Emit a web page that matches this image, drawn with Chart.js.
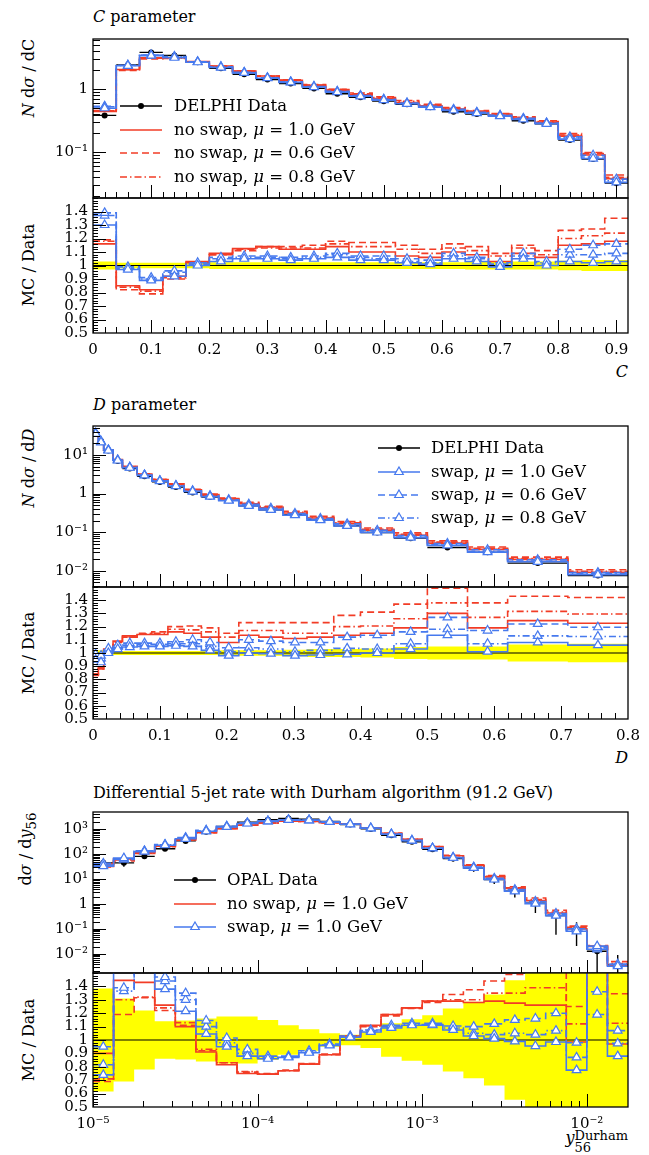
<!DOCTYPE html>
<html>
<head>
<meta charset="utf-8">
<title>MC / Data</title>
<script src="https://cdn.jsdelivr.net/npm/chart.js@4.4.1/dist/chart.umd.min.js"></script>
<style>
  html, body { margin: 0; padding: 0; background: #fff; }
  body { position: relative; width: 649px; height: 1155px; overflow: hidden;
         font-family: "DejaVu Serif", serif; color: #000; }
  canvas { position: absolute; left: 0; }
  .t { position: absolute; white-space: nowrap; font-size: 16px; line-height: 20px; }
  .yl { position: absolute; white-space: nowrap; font-size: 16px; line-height: 20px;
        transform: translate(-50%, -50%) rotate(-90deg); }
  .leg { position: absolute; white-space: nowrap; font-size: 16.5px; line-height: 22px; height: 22px; }
  .leg svg { position: absolute; left: 0; top: 4px; }
  .leg span { position: absolute; top: 0; }
  .ss { display: inline-block; vertical-align: -9px; font-size: 13px; line-height: 12px; }
  .ss span { display: block; }
</style>
</head>
<body>

<div class="t" style="left:93px;top:7px"><i>C</i> parameter</div>
<div class="yl" style="left:29px;top:78px"><i>N</i> d<i>σ</i> / dC</div>
<div class="yl" style="left:29px;top:265px">MC / Data</div>
<div class="t" style="right:21px;top:362px"><i>C</i></div>

<div class="t" style="left:93px;top:395px"><i>D</i> parameter</div>
<div class="yl" style="left:29px;top:468px"><i>N</i> d<i>σ</i> / d<i>D</i></div>
<div class="yl" style="left:29px;top:653px">MC / Data</div>
<div class="t" style="right:21px;top:748px"><i>D</i></div>

<div class="t" style="left:93px;top:783px">Differential 5-jet rate with Durham algorithm (91.2 GeV)</div>
<div class="yl" style="left:29px;top:849px">d<i>σ</i> / d<i>y</i><sub>56</sub></div>
<div class="yl" style="left:29px;top:1040px">MC / Data</div>
<div class="t" style="right:21px;top:1128px"><i>y</i><span class="ss"><span>Durham</span><span>56</span></span></div>

<script>
// ---- C parameter (DELPHI) ----
const cEdges = [0, 0.04, 0.08, 0.12, 0.16, 0.2, 0.24, 0.28, 0.32, 0.36, 0.4, 0.44, 0.48, 0.52,
                0.56, 0.6, 0.64, 0.68, 0.72, 0.76, 0.8, 0.84, 0.88, 0.92];
const cData = [0.38, 2.4, 3.8, 3.4, 2.65, 2.12, 1.71, 1.41, 1.22, 1.02, 0.84, 0.735, 0.64, 0.57,
               0.51, 0.435, 0.40, 0.374, 0.313, 0.28, 0.155, 0.077, 0.032];
// relative data uncertainty (half width of the yellow band)
const cErr = [0.03, 0.02, 0.02, 0.02, 0.02, 0.025, 0.025, 0.025, 0.025, 0.025, 0.025, 0.025,
              0.025, 0.025, 0.025, 0.025, 0.03, 0.03, 0.03, 0.03, 0.035, 0.04, 0.04];
// MC / Data
const cNoSwap10 = [1.16, 0.85, 0.82, 0.92, 1.03, 1.09, 1.125, 1.14, 1.12, 1.12, 1.14, 1.10, 1.10,
                   1.07, 1.06, 1.10, 1.08, 1.03, 1.09, 1.06, 1.15, 1.16, 1.18];
const cNoSwap06 = [1.19, 0.82, 0.79, 0.90, 1.02, 1.08, 1.12, 1.14, 1.14, 1.15, 1.18, 1.17, 1.17,
                   1.15, 1.12, 1.16, 1.14, 1.09, 1.15, 1.11, 1.26, 1.27, 1.35];
const cNoSwap08 = [1.18, 0.84, 0.81, 0.91, 1.02, 1.08, 1.11, 1.13, 1.13, 1.13, 1.16, 1.14, 1.14,
                   1.12, 1.09, 1.13, 1.11, 1.07, 1.13, 1.08, 1.20, 1.22, 1.24];
const cSwap10 = [1.30, 0.97, 0.89, 0.92, 1.00, 1.03, 1.05, 1.05, 1.04, 1.05, 1.06, 1.04, 1.04,
                 1.02, 1.01, 1.05, 1.03, 0.99, 1.05, 1.00, 1.03, 1.02, 1.03];
const cSwap06 = [1.39, 0.99, 0.91, 0.96, 1.02, 1.06, 1.07, 1.07, 1.06, 1.07, 1.09, 1.07, 1.07,
                 1.05, 1.04, 1.09, 1.06, 1.02, 1.09, 1.03, 1.12, 1.15, 1.16];
const cSwap08 = [1.37, 0.98, 0.90, 0.95, 1.01, 1.05, 1.06, 1.06, 1.05, 1.06, 1.08, 1.06, 1.05,
                 1.03, 1.02, 1.07, 1.05, 1.01, 1.07, 1.02, 1.08, 1.08, 1.09];
const cXTicks = [0, 0.1, 0.2, 0.3, 0.4, 0.5, 0.6, 0.7, 0.8, 0.9];
const cXLabels = ['0', '0.1', '0.2', '0.3', '0.4', '0.5', '0.6', '0.7', '0.8', '0.9'];
const cYTicks = [0.1, 1];
const cYLabels = ['10⁻¹', '1'];

// ---- D parameter (DELPHI) ----
const dEdges = [0, 0.008, 0.016, 0.03, 0.044, 0.066, 0.088, 0.112, 0.136, 0.162, 0.188, 0.218,
                0.248, 0.284, 0.32, 0.36, 0.40, 0.45, 0.50, 0.56, 0.62, 0.71, 0.80];
const dData = [37, 22.8, 13.0, 6.95, 4.45, 2.81, 2.0, 1.48, 1.07, 0.81, 0.665, 0.48, 0.38, 0.282,
               0.208, 0.146, 0.098, 0.070, 0.040, 0.030, 0.0158, 0.0075];
const dErr = [0.02, 0.02, 0.015, 0.015, 0.015, 0.015, 0.015, 0.015, 0.015, 0.015, 0.02, 0.02,
              0.02, 0.025, 0.03, 0.03, 0.035, 0.045, 0.05, 0.05, 0.065, 0.07];
const dNoSwap10 = [0.84, 0.88, 1.02, 1.09, 1.13, 1.14, 1.14, 1.16, 1.15, 1.12, 1.08, 1.135, 1.12,
                   1.11, 1.12, 1.135, 1.15, 1.19, 1.30, 1.19, 1.245, 1.225];
const dNoSwap06 = [0.83, 0.89, 1.03, 1.08, 1.12, 1.15, 1.16, 1.20, 1.205, 1.19, 1.15, 1.23, 1.23,
                   1.23, 1.23, 1.285, 1.31, 1.37, 1.49, 1.38, 1.43, 1.42];
const dNoSwap08 = [0.84, 0.88, 1.02, 1.085, 1.12, 1.145, 1.15, 1.18, 1.175, 1.16, 1.12, 1.17, 1.17,
                   1.15, 1.15, 1.20, 1.205, 1.26, 1.38, 1.27, 1.315, 1.295];
const dSwap10 = [0.95, 0.93, 1.0, 1.03, 1.045, 1.05, 1.05, 1.055, 1.05, 1.02, 0.98, 1.0, 0.995,
                 0.98, 0.985, 0.99, 1.0, 1.03, 1.135, 1.01, 1.08, 1.06];
const dSwap06 = [0.99, 0.98, 1.035, 1.06, 1.075, 1.075, 1.075, 1.085, 1.10, 1.08, 1.04, 1.10, 1.09,
                 1.08, 1.08, 1.12, 1.135, 1.16, 1.27, 1.17, 1.22, 1.195];
const dSwap08 = [0.97, 0.96, 1.02, 1.05, 1.06, 1.065, 1.065, 1.07, 1.07, 1.05, 1.01, 1.04, 1.03,
                 1.01, 1.02, 1.035, 1.03, 1.07, 1.18, 1.07, 1.13, 1.125];
const dXTicks = [0, 0.1, 0.2, 0.3, 0.4, 0.5, 0.6, 0.7, 0.8];
const dXLabels = ['0', '0.1', '0.2', '0.3', '0.4', '0.5', '0.6', '0.7', '0.8'];
const dYTicks = [0.01, 0.1, 1, 10];
const dYLabels = ['10⁻²', '10⁻¹', '1', '10¹'];

// ---- differential 5-jet rate, Durham (OPAL, 91.2 GeV) ----
const y56EdgeExp = [-5, -4.875, -4.75, -4.625, -4.5, -4.375, -4.25, -4.125, -4, -3.875, -3.75,
                    -3.625, -3.5, -3.375, -3.25, -3.125, -3, -2.875, -2.75, -2.625, -2.5,
                    -2.375, -2.25, -2.125, -2, -1.875, -1.75];
const y56Data = [45, 45, 82, 165, 340, 790, 1300, 1930, 2400, 2700, 2520, 2040, 1550, 1030, 575,
                 315, 156, 67, 27.6, 9.6, 3.3, 1.1, 0.35, 0.105, 0.013, 0.0037];
const y56Err = [0.385, 0.31, 0.22, 0.14, 0.145, 0.16, 0.175, 0.175, 0.15, 0.11, 0.08, 0.05, 0.04,
                0.06, 0.125, 0.155, 0.185, 0.235, 0.285, 0.34, 0.445, 0.6, 0.83, 0.8, 1.0, 1.5];
const y56NoSwap10 = [0.90, 1.445, 1.43, 1.26, 1.10, 0.91, 0.815, 0.75, 0.745, 0.77, 0.82, 0.89, 1.03,
                     1.11, 1.19, 1.24, 1.29, 1.29, 1.28, 1.29, 1.275, 1.26, 1.26, 0.985, 1.55, 0.97];
const y56NoSwap06 = [0.69, 1.19, 1.315, 1.22, 1.11, 0.92, 0.83, 0.76, 0.75, 0.775, 0.825, 0.895, 1.025,
                     1.10, 1.18, 1.235, 1.28, 1.34, 1.375, 1.44, 1.49, 1.6, 1.6, 1.25, 1.7, 1.345];
const y56NoSwap08 = [0.71, 1.30, 1.32, 1.24, 1.13, 0.93, 0.83, 0.765, 0.745, 0.77, 0.82, 0.89, 1.03,
                     1.105, 1.19, 1.24, 1.29, 1.30, 1.30, 1.35, 1.35, 1.39, 1.39, 1.12, 1.6, 1.125];
const y56Swap10 = [0.74, 1.55, 1.55, 1.38, 1.215, 1.045, 0.95, 0.88, 0.86, 0.87, 0.905, 0.96, 1.02,
                   1.06, 1.09, 1.11, 1.115, 1.075, 1.03, 1.01, 0.99, 0.955, 0.985, 0.775, 1.6, 0.88];
const y56Swap06 = [0.95, 1.39, 1.65, 1.47, 1.35, 1.145, 1.015, 0.93, 0.88, 0.88, 0.92, 0.97, 1.03,
                   1.075, 1.11, 1.125, 1.125, 1.105, 1.10, 1.12, 1.15, 1.16, 1.2, 0.98, 1.36, 1.07];
const y56Swap08 = [0.815, 1.365, 1.6, 1.44, 1.30, 1.10, 0.98, 0.90, 0.87, 0.875, 0.91, 0.965, 1.025,
                   1.07, 1.10, 1.115, 1.11, 1.09, 1.05, 1.04, 1.05, 1.04, 1.07, 0.87, 1.19, 0.975];
const y56XTicks = [1e-5, 1e-4, 1e-3, 1e-2];
const y56XLabels = ['10⁻⁵', '10⁻⁴', '10⁻³', '10⁻²'];
const y56YTicks = [0.01, 0.1, 1, 10, 100, 1000];
const y56YLabels = ['10⁻²', '10⁻¹', '1', '10¹', '10²', '10³'];

// shared ratio axis
const ratioTicks = [0.5, 0.6, 0.7, 0.8, 0.9, 1, 1.1, 1.2, 1.3, 1.4];
const ratioLabels = ['0.5', '0.6', '0.7', '0.8', '0.9', '1', '1.1', '1.2', '1.3', '1.4'];

const RED = '#f23c26', BLUE = '#4679ee', YELLOW = '#ffff00';
const DASH = [7, 4], DASHDOT = [7, 3, 1.5, 3];
// order: no swap 1.0, 0.6, 0.8, swap 1.0, 0.6, 0.8
const styles = [
    { color: RED, dash: [] }, { color: RED, dash: DASH }, { color: RED, dash: DASHDOT },
    { color: BLUE, dash: [] }, { color: BLUE, dash: DASH }, { color: BLUE, dash: DASHDOT }
];

const panels = [
    { edges: cEdges, data: cData, err: cErr,
      ratios: [cNoSwap10, cNoSwap06, cNoSwap08, cSwap10, cSwap06, cSwap08],
      logX: false, xMin: 0, xMax: 0.92, xTicks: cXTicks, xLabels: cXLabels,
      yMin: 0.0186, yMax: 6.2, yTicks: cYTicks, yLabels: cYLabels,
      top: 39, split: 198, bottom: 333 },
    { edges: dEdges, data: dData, err: dErr,
      ratios: [dNoSwap10, dNoSwap06, dNoSwap08, dSwap10, dSwap06, dSwap08],
      logX: false, xMin: 0, xMax: 0.8, xTicks: dXTicks, xLabels: dXLabels,
      yMin: 0.0038, yMax: 56, yTicks: dYTicks, yLabels: dYLabels,
      top: 426, split: 587, bottom: 719 },
    { edges: y56EdgeExp.map(e => Math.pow(10, e)), data: y56Data, err: y56Err,
      ratios: [y56NoSwap10, y56NoSwap06, y56NoSwap08, y56Swap10, y56Swap06, y56Swap08],
      logX: true, xMin: 1e-5, xMax: Math.pow(10, -1.75), xTicks: y56XTicks, xLabels: y56XLabels,
      yMin: 0.00174, yMax: 4900, yTicks: y56YTicks, yLabels: y56YLabels,
      top: 812, split: 973, bottom: 1107 }
];

Chart.defaults.font.family = 'DejaVu Serif';
Chart.defaults.color = '#000';
const tickFont = { family: 'DejaVu Serif', size: 15 };
const PAD = 12;

function stepPoints(edges, vals) {
    var pts = [];
    for (let i = 0; i < vals.length; i++) pts.push({ x: edges[i], y: vals[i] });
    pts.push({ x: edges[edges.length - 1], y: vals[vals.length - 1] });
    return pts;
}

function binCenters(edges, logX) {
    var c = [];
    for (let i = 0; i < edges.length - 1; i++) {
        c.push(logX ? Math.sqrt(edges[i] * edges[i + 1]) : (edges[i] + edges[i + 1]) / 2);
    }
    return c;
}

function lineSet(pts, st) {
    return { data: pts, stepped: true, borderColor: st.color, borderWidth: 1.6,
             borderDash: st.dash, pointRadius: 0, fill: false };
}

function triangleSet(pts, st) {
    return { data: pts, showLine: false, pointStyle: 'triangle', pointRadius: 5,
             pointBackgroundColor: '#fff', pointBorderColor: st.color, pointBorderWidth: 1.2 };
}

// tick positions for the inward ticks
function linTicks(min, max, step) {
    var out = [];
    for (let k = 0; min + k * step <= max + 1e-9; k++) out.push(+(min + k * step).toFixed(6));
    return out;
}
function logMinor(min, max) {
    var out = [];
    for (let e = Math.floor(Math.log10(min)); e <= Math.ceil(Math.log10(max)); e++) {
        for (let m = 1; m < 10; m++) {
            const v = m * Math.pow(10, e);
            if (v >= min && v <= max) out.push(v);
        }
    }
    return out;
}

function framePlugin(t) {
    return {
        id: 'frame',
        afterDraw(chart) {
            const a = chart.chartArea, ctx = chart.ctx;
            const xs = chart.scales.x, ys = chart.scales.y;
            ctx.save();
            ctx.strokeStyle = '#000';
            ctx.lineWidth = 1;
            ctx.beginPath();
            const xt = (vals, len) => vals.forEach(v => {
                const x = Math.round(xs.getPixelForValue(v)) + 0.5;
                if (x < a.left || x > a.right) return;
                ctx.moveTo(x, a.bottom); ctx.lineTo(x, a.bottom - len);
            });
            const yt = (vals, len) => vals.forEach(v => {
                const y = Math.round(ys.getPixelForValue(v)) + 0.5;
                if (y < a.top || y > a.bottom) return;
                ctx.moveTo(a.left, y); ctx.lineTo(a.left + len, y);
            });
            xt(t.xMinor, 6); xt(t.xMajor, 13);
            yt(t.yMinor, t.yMinorLen); yt(t.yMajor, 13);
            ctx.stroke();
            ctx.lineWidth = 1.3;
            ctx.strokeRect(a.left, a.top, a.right - a.left, a.bottom - a.top);
            ctx.restore();
        }
    };
}

function dataErrorPlugin(p, centers) {
    return {
        id: 'dataErrors',
        beforeDatasetsDraw(chart) {
            const a = chart.chartArea, ctx = chart.ctx;
            const xs = chart.scales.x, ys = chart.scales.y;
            ctx.save();
            ctx.beginPath();
            ctx.rect(a.left, a.top, a.right - a.left, a.bottom - a.top);
            ctx.clip();
            ctx.strokeStyle = '#000';
            ctx.lineWidth = 1.4;
            ctx.beginPath();
            p.data.forEach((v, i) => {
                const y = ys.getPixelForValue(v);
                ctx.moveTo(xs.getPixelForValue(p.edges[i]), y);
                ctx.lineTo(xs.getPixelForValue(p.edges[i + 1]), y);
                const x = xs.getPixelForValue(centers[i]);
                const lo = Math.max(v * (1 - p.err[i]), p.yMin * 0.1);
                ctx.moveTo(x, ys.getPixelForValue(v * (1 + p.err[i])));
                ctx.lineTo(x, ys.getPixelForValue(lo));
            });
            ctx.stroke();
            ctx.restore();
        }
    };
}

function makeCanvas(top, height) {
    var c = document.createElement('canvas');
    c.width = 649; c.height = height;
    c.style.top = top + 'px';
    c.style.width = '649px'; c.style.height = height + 'px';
    document.body.appendChild(c);
    return c;
}

function xScale(p, show) {
    return {
        type: p.logX ? 'logarithmic' : 'linear', min: p.xMin, max: p.xMax, display: show,
        grid: { display: false, drawTicks: false }, border: { display: false },
        afterBuildTicks: s => { s.ticks = p.xTicks.map(v => ({ value: v })); },
        afterFit: s => { s.height = show ? 40 : 0; },
        ticks: { autoSkip: false, maxRotation: 0, padding: 8, font: tickFont, color: '#000',
                 callback: v => { const i = p.xTicks.indexOf(v); return i >= 0 ? p.xLabels[i] : ''; } }
    };
}

function yScale(type, min, max, ticks, labels) {
    return {
        type: type, min: min, max: max,
        grid: { display: false, drawTicks: false }, border: { display: false },
        afterFit: s => { s.width = 93; s.paddingTop = 0; s.paddingBottom = 0; },
        afterBuildTicks: s => { s.ticks = ticks.map(v => ({ value: v })); },
        ticks: { autoSkip: false, padding: 5, font: tickFont, color: '#000',
                 callback: v => { const i = ticks.indexOf(v); return i >= 0 ? labels[i] : ''; } }
    };
}

function drawPanel(p) {
    var centers = binCenters(p.edges, p.logX);
    var xMinor = p.logX ? logMinor(p.xMin, p.xMax) : linTicks(p.xMin, p.xMax, 0.02);

    // MC histograms in the upper plot: the ratio times the data
    var mc = p.ratios.map(r => r.map((v, i) => v * p.data[i]));
    var mainSets = [];
    [3, 4, 5].forEach(k => mainSets.push(triangleSet(centers.map((x, i) => ({ x: x, y: mc[k][i] })), styles[k])));
    [3, 4, 5, 0, 1, 2].forEach(k => mainSets.push(lineSet(stepPoints(p.edges, mc[k]), styles[k])));
    mainSets.push({ data: centers.map((x, i) => ({ x: x, y: p.data[i] })), showLine: false,
                    pointRadius: 3, pointBackgroundColor: '#000', pointBorderColor: '#000', pointBorderWidth: 0 });

    new Chart(makeCanvas(p.top - PAD, p.split - p.top + 2 * PAD), {
        type: 'line',
        data: { datasets: mainSets },
        options: {
            responsive: false, animation: false, devicePixelRatio: 1,
            layout: { padding: { top: PAD, bottom: PAD, left: 0, right: 21 } },
            plugins: { legend: { display: false }, tooltip: { enabled: false } },
            scales: {
                x: xScale(p, false),
                y: yScale('logarithmic', p.yMin, p.yMax, p.yTicks, p.yLabels)
            }
        },
        plugins: [dataErrorPlugin(p, centers),
                  framePlugin({ xMajor: p.xTicks, xMinor: xMinor, yMajor: p.yTicks,
                                yMinor: logMinor(p.yMin, p.yMax), yMinorLen: 7 })]
    });

    var ratioSets = [];
    [3, 4, 5].forEach(k => ratioSets.push(triangleSet(centers.map((x, i) => ({ x: x, y: p.ratios[k][i] })), styles[k])));
    [3, 4, 5, 0, 1, 2].forEach(k => ratioSets.push(lineSet(stepPoints(p.edges, p.ratios[k]), styles[k])));
    ratioSets.push({ data: [{ x: p.xMin, y: 1 }, { x: p.xMax, y: 1 }], borderColor: '#000',
                     borderWidth: 1.2, pointRadius: 0, fill: false });
    ratioSets.push({ data: stepPoints(p.edges, p.err.map(e => 1 + e)), stepped: true,
                     borderColor: 'rgba(0,0,0,0)', borderWidth: 1, pointRadius: 0, fill: false });
    ratioSets.push({ data: stepPoints(p.edges, p.err.map(e => 1 - e)), stepped: true,
                     borderColor: 'rgba(0,0,0,0)', borderWidth: 1, pointRadius: 0,
                     fill: '-1', backgroundColor: YELLOW });

    new Chart(makeCanvas(p.split - PAD, p.bottom - p.split + PAD + 40), {
        type: 'line',
        data: { datasets: ratioSets },
        options: {
            responsive: false, animation: false, devicePixelRatio: 1,
            layout: { padding: { top: PAD, bottom: 0, left: 0, right: 21 } },
            plugins: { legend: { display: false }, tooltip: { enabled: false },
                       filler: { drawTime: 'beforeDatasetsDraw' } },
            scales: {
                x: xScale(p, true),
                y: yScale('linear', 0.5, 1.5, ratioTicks, ratioLabels)
            }
        },
        plugins: [framePlugin({ xMajor: p.xTicks, xMinor: xMinor, yMajor: ratioTicks,
                                yMinor: linTicks(0.5, 1.5, 0.02), yMinorLen: 5 })]
    });
}

panels.forEach(drawPanel);

// legends
function legendSample(kind, st) {
    var dash = st.dash.length ? `stroke-dasharray="${st.dash.join(' ')}"` : '';
    var s = `<svg width="44" height="14"><line x1="0" y1="7" x2="42" y2="7" stroke="${st.color}" stroke-width="1.6" ${dash}/>`;
    if (kind == 'data') s += '<circle cx="21" cy="7" r="3" fill="#000"/>';
    if (kind == 'tri') s += `<polygon points="21,2 25.3,9.5 16.7,9.5" fill="#fff" stroke="${st.color}" stroke-width="1.2"/>`;
    return s + '</svg>';
}

function addLegend(x0, textX, rows) {
    rows.forEach(r => {
        var d = document.createElement('div');
        d.className = 'leg';
        d.style.left = x0 + 'px';
        d.style.top = (r.y - 11) + 'px';
        d.innerHTML = legendSample(r.kind, r.st) + `<span style="left:${textX - x0}px">${r.text}</span>`;
        document.body.appendChild(d);
    });
}

const dataStyle = { color: '#000', dash: [] };
addLegend(120, 174, [
    { y: 106, kind: 'data', st: dataStyle, text: 'DELPHI Data' },
    { y: 130, kind: 'line', st: styles[0], text: 'no swap, <i>μ</i> = 1.0 GeV' },
    { y: 153, kind: 'line', st: styles[1], text: 'no swap, <i>μ</i> = 0.6 GeV' },
    { y: 177, kind: 'line', st: styles[2], text: 'no swap, <i>μ</i> = 0.8 GeV' }
]);
addLegend(378, 431, [
    { y: 448, kind: 'data', st: dataStyle, text: 'DELPHI Data' },
    { y: 472, kind: 'tri', st: styles[3], text: 'swap, <i>μ</i> = 1.0 GeV' },
    { y: 495, kind: 'tri', st: styles[4], text: 'swap, <i>μ</i> = 0.6 GeV' },
    { y: 518, kind: 'tri', st: styles[5], text: 'swap, <i>μ</i> = 0.8 GeV' }
]);
addLegend(174, 227, [
    { y: 880, kind: 'data', st: dataStyle, text: 'OPAL Data' },
    { y: 904, kind: 'line', st: styles[0], text: 'no swap, <i>μ</i> = 1.0 GeV' },
    { y: 927, kind: 'tri', st: styles[3], text: 'swap, <i>μ</i> = 1.0 GeV' }
]);
</script>
</body>
</html>
